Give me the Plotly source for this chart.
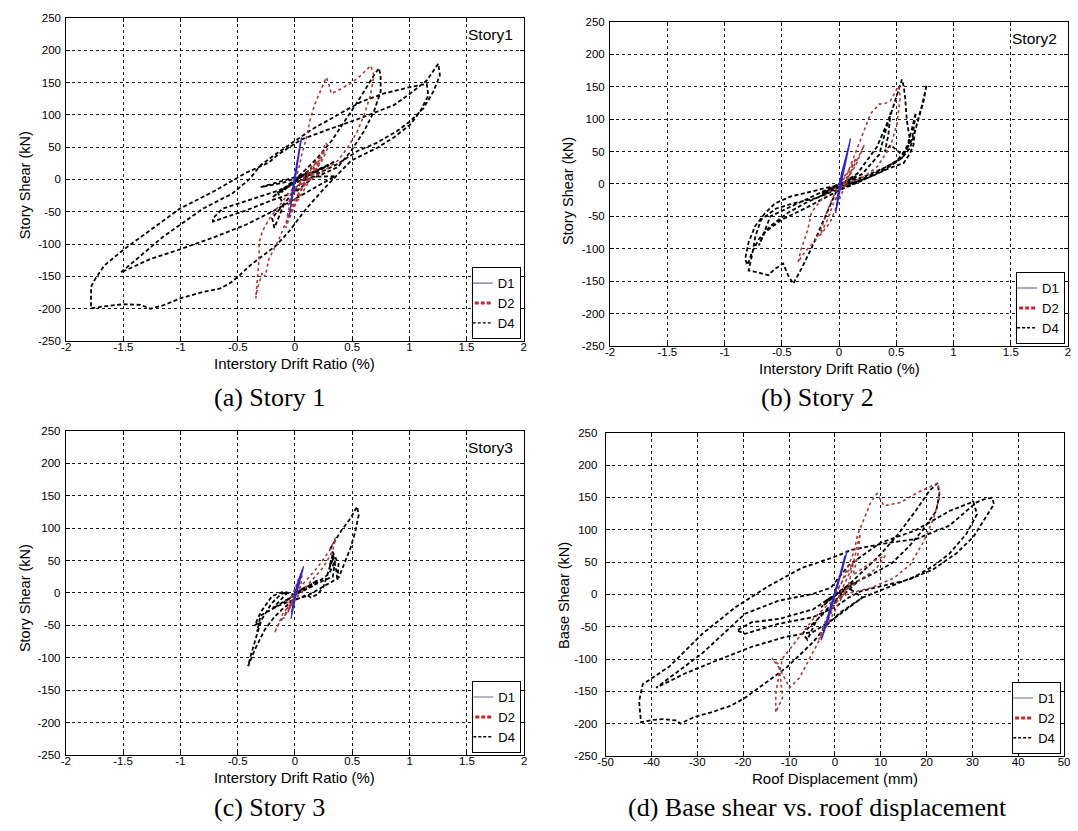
import plotly.graph_objects as go

# ---------------- tick labels ----------------
SHEAR_TICKS = [-250, -200, -150, -100, -50, 0, 50, 100, 150, 200, 250]
SHEAR_TICK_TEXT = ["-250", "-200", "-150", "-100", "-50", "0", "50", "100", "150", "200", "250"]
DRIFT_TICKS = [-2, -1.5, -1, -0.5, 0, 0.5, 1, 1.5, 2]
DRIFT_TICK_TEXT = ["-2", "-1.5", "-1", "-0.5", "0", "0.5", "1", "1.5", "2"]
DISP_TICKS = [-50, -40, -30, -20, -10, 0, 10, 20, 30, 40, 50]
DISP_TICK_TEXT = ["-50", "-40", "-30", "-20", "-10", "0", "10", "20", "30", "40", "50"]

SERIES = ["D1", "D2", "D4"]
STORY_TAGS = ["Story1", "Story2", "Story3", ""]
CAPTIONS = ["(a) Story 1", "(b) Story 2", "(c) Story 3", "(d) Base shear vs. roof displacement"]
X_TITLES = ["Interstory Drift Ratio (%)"] * 3 + ["Roof Displacement (mm)"]
Y_TITLES = ["Story Shear (kN)"] * 3 + ["Base Shear (kN)"]

# ---------------- Story 1 : (drift %, shear kN) ----------------
S1_D1 = [(0, 0), (0.02, 30), (-0.03, -25), (0.04, 50), (-0.04, -45), (0.058, 65), (0.03, 40),
         (-0.02, -20), (-0.05, -57), (0.0, 0), (0.045, 55), (0.02, 25), (-0.045, -52), (-0.01, -10),
         (0.035, 45), (-0.03, -35), (0.05, 60), (0.0, 5), (-0.04, -40), (0.02, 20), (0, 0)]
S1_D2 = [(0, 0), (0.03, 14), (0.06, 39), (0.1, 64), (0.13, 90), (0.17, 115), (0.23, 140), (0.274, 158),
         (0.30, 145), (0.317, 133), (0.37, 137), (0.432, 143), (0.5, 150), (0.576, 161), (0.662, 176),
         (0.69, 161), (0.66, 130), (0.605, 100), (0.547, 75), (0.46, 49), (0.374, 29), (0.26, 14),
         (0.144, 1), (0.05, -8), (0, -12), (-0.055, -20), (-0.112, -35), (-0.17, -48), (-0.228, -62),
         (-0.285, -80), (-0.314, -98), (-0.314, -123), (-0.328, -154), (-0.343, -184), (-0.33, -170),
         (-0.3, -150), (-0.285, -144), (-0.26, -150), (-0.228, -123), (-0.19, -110), (-0.141, -93),
         (-0.084, -68), (-0.026, -47), (0.02, -25), (0.08, -5), (0.15, 15), (0.22, 35), (0.27, 57),
         (0.29, 50), (0.24, 30), (0.16, 10), (0.08, -10), (0.0, -30), (-0.05, -50), (-0.08, -75),
         (-0.06, -65), (0.0, -40), (0.1, -10), (0.2, 20), (0.26, 45), (0.22, 35), (0.12, 15),
         (0.02, -10), (-0.04, -35), (-0.07, -60), (-0.02, -45), (0.06, -15), (0.15, 10), (0.22, 30),
         (0.18, 25), (0.1, 5), (0.0, -15), (-0.06, -40), (0, 0)]
S1_D4 = [(0, 0), (0.08, 8), (-0.06, -10), (0.15, 18), (-0.12, -20), (0.1, 10), (-0.2, -28), (0.0, 0),
         (0.086, 14), (0.2, 34), (0.317, 59), (0.432, 90), (0.547, 120), (0.69, 161), (0.734, 172),
         (0.749, 161), (0.749, 136), (0.69, 105), (0.605, 75), (0.49, 44), (0.374, 19), (0.2, 5),
         (0.0, -5), (-0.141, -17), (-0.429, -34), (-0.631, -45), (-0.717, -60), (-0.717, -65),
         (-0.6, -58), (-0.429, -48), (-0.2, -32), (0.0, -20), (0.2, 9), (0.374, 24), (0.547, 44),
         (0.72, 57), (0.893, 75), (1.008, 90), (1.123, 110), (1.21, 136), (1.267, 161), (1.253, 179),
         (1.152, 153), (1.008, 133), (0.864, 115), (0.576, 95), (0.288, 77), (0.058, 62), (-0.144, 39),
         (-0.23, 26), (-0.432, 10), (-0.717, -19), (-1.005, -45), (-1.264, -78), (-1.495, -108),
         (-1.667, -133), (-1.754, -156), (-1.783, -166), (-1.783, -184), (-1.783, -199.5),
         (-1.70, -197), (-1.50, -193), (-1.35, -194), (-1.264, -200), (-1.149, -194.5), (-1.005, -184),
         (-0.803, -174), (-0.659, -169), (-0.573, -161), (-0.487, -149), (-0.40, -134), (-0.285, -118),
         (-0.17, -103), (-0.05, -80), (0.1, -45), (0.25, -15), (0.374, 8), (0.49, 29), (0.72, 49),
         (0.864, 65), (1.008, 85), (1.094, 105), (1.166, 130), (1.152, 148), (1.008, 143),
         (0.778, 133), (0.576, 120), (0.374, 100), (0.144, 77), (-0.17, 39), (-0.3, 22), (-0.4, 0),
         (-0.55, -22), (-0.803, -45), (-1.149, -88), (-1.523, -144), (-1.264, -123), (-1.005, -108),
         (-0.717, -90), (-0.429, -70), (-0.17, -47), (0.0, -30), (0.2, -10), (0.35, 5), (0.003, 3.6),
         (-0.141, -4), (-0.3, -12), (-0.1, -5), (0.2, 15), (0.35, 28), (0.1, 5), (-0.2, -60),
         (-0.18, -75), (-0.1, -40), (-0.15, -20), (0.3, 22), (0.0, 0)]

# ---------------- Story 2 ----------------
S2_D1 = [(0, 0), (0.04, 25), (-0.01, -15), (0.07, 45), (0.0, -5), (0.1, 70), (0.06, 35), (-0.02, -30),
         (-0.03, -45), (0.03, 10), (0.08, 55), (0.02, 15), (-0.025, -38), (0.05, 30), (0.09, 60),
         (0.0, -10), (-0.02, -25), (0.03, 20), (0, 0)]
S2_D2 = [(0, 0), (0.016, 1), (0.073, 16), (0.13, 42), (0.19, 72), (0.275, 108), (0.35, 123), (0.40, 124),
         (0.448, 128), (0.52, 151), (0.534, 133), (0.505, 92), (0.448, 57), (0.33, 26), (0.218, 11),
         (0.07, 1), (0, -5), (-0.07, -9), (-0.157, -24), (-0.243, -45), (-0.272, -70), (-0.33, -100),
         (-0.358, -121), (-0.32, -110), (-0.25, -95), (-0.214, -90), (-0.157, -70), (-0.128, -55),
         (-0.1, -40), (-0.05, -20), (0.02, 5), (0.1, 25), (0.15, 40), (0.1, 20), (0.02, -5),
         (-0.05, -30), (-0.1, -55), (-0.17, -80), (-0.08, -60), (0, -25), (0.08, 10), (0.18, 45),
         (0.22, 60), (0.15, 30), (0.05, 0), (0, 0)]
S2_D4 = [(0, 0), (0.1, 8), (-0.08, -10), (0.15, 12), (-0.15, -15), (0.05, 3), (0.16, 16), (0.33, 57),
         (0.448, 105), (0.5, 135), (0.549, 161), (0.565, 150), (0.577, 133), (0.592, 98), (0.62, 67),
         (0.59, 52), (0.505, 36), (0.35, 20), (0.16, 4), (0, -3), (-0.07, -4), (-0.243, -12),
         (-0.416, -19), (-0.56, -30), (-0.646, -45), (-0.733, -65), (-0.79, -90), (-0.82, -116),
         (-0.80, -125), (-0.762, -106), (-0.70, -85), (-0.60, -65), (-0.45, -45), (-0.3, -30),
         (-0.15, -18), (0, -8), (0.2, 5), (0.4, 22), (0.55, 40), (0.62, 55), (0.66, 80), (0.70, 105),
         (0.735, 125), (0.765, 153), (0.75, 140), (0.72, 118), (0.69, 100), (0.66, 78), (0.65, 60),
         (0.62, 47), (0.563, 32), (0.45, 25), (0.275, 11), (0.16, 3.6), (0, -5), (-0.2, -22),
         (-0.4, -30), (-0.55, -38), (-0.68, -55), (-0.73, -80), (-0.76, -110), (-0.79, -133.5),
         (-0.718, -136), (-0.618, -141), (-0.56, -131), (-0.488, -123), (-0.445, -141), (-0.40, -154),
         (-0.33, -131), (-0.243, -100), (-0.157, -65), (-0.07, -30), (0, -2), (0.2, 15), (0.35, 45),
         (0.45, 110), (0.43, 75), (0.40, 50), (0.45, 60), (0.55, 45), (0.6, 60), (0.65, 95),
         (0.67, 110), (0.64, 70), (0.55, 40), (0.4, 25), (0.2, 10), (0, 0), (-0.3, -25), (-0.6, -50),
         (-0.7, -95), (-0.65, -75), (-0.5, -55), (-0.3, -38), (0, -10), (0.2, 5), (0, 0)]

# ---------------- Story 3 ----------------
S3_D1 = [(0, 0), (0.03, 20), (-0.02, -20), (0.06, 35), (-0.03, -30), (0.075, 41), (0.02, 10),
         (-0.035, -40), (0.05, 30), (-0.01, -15), (0.04, 25), (-0.03, -35), (0, 0)]
S3_D2 = [(0, 0), (0.1, 20), (0.2, 40), (0.3, 65), (0.354, 85), (0.33, 65), (0.25, 40), (0.1, 10),
         (0, -10), (-0.1, -30), (-0.179, -62), (-0.15, -50), (-0.05, -25), (0.05, 10), (0.066, 36),
         (0.02, 10), (-0.04, -20), (-0.1, -40), (-0.05, -15), (0.03, 20), (0.06, 30), (0.0, 0),
         (-0.06, -30), (0.04, 15), (0, 0)]
S3_D4 = [(0, 0), (0.1, 10), (-0.1, -15), (0.2, 20), (-0.2, -25), (-0.063, 1), (-0.121, -1.5),
         (-0.207, -16.8), (-0.294, -42), (-0.337, -67), (-0.38, -92.7), (-0.409, -113), (-0.351, -87.7),
         (-0.265, -57), (-0.179, -37), (-0.092, -22), (-0.006, -11.7), (0.1, -3), (0.14, -7), (0.2, -2),
         (0.25, 10), (0.311, 44), (0.34, 55), (0.3, 40), (0.33, 60), (0.36, 35), (0.37, 19), (0.38, 45),
         (0.311, 69), (0.4, 95), (0.484, 115), (0.542, 133), (0.556, 120), (0.527, 95), (0.484, 69),
         (0.426, 44), (0.383, 24), (0.3, 15), (0.2, 5), (0.1, -5), (0, -10), (-0.15, -20), (-0.3, -35),
         (-0.33, -60), (-0.31, -45), (-0.35, -50), (-0.3, -30), (-0.2, -5), (-0.1, 2), (0, -3),
         (0.15, 10), (0.3, 30), (0.35, 50), (0.33, 25), (0.2, 15), (0, 0)]

# ---------------- Roof : (displacement mm, base shear kN) ----------------
S4_D1 = [(0, 0), (1, 25), (-0.5, -10), (2, 50), (0.5, 10), (2.7, 68), (1.5, 35), (-1, -20), (-2, -45),
         (-3, -71), (-1.5, -40), (0.5, 15), (2.2, 60), (1, 30), (-0.5, -15), (-2.5, -60), (0, 5),
         (1.8, 45), (0.8, 20), (-1.2, -30), (0, 0)]
S4_D2 = [(0, 0), (1.3, 15), (2.7, 40.6), (4.2, 66), (4.9, 91), (6.3, 116.7), (7.8, 142), (9.2, 156),
         (10.7, 137), (14.3, 142), (17.9, 157), (22.5, 172.4), (22.9, 152), (21.5, 116.7), (19.3, 81),
         (16.4, 45.7), (12.8, 25), (7.8, 10), (3.5, 2.6), (0, -8), (-1.8, -17.8), (-4.7, -38),
         (-6.9, -58), (-9.2, -78.6), (-11.4, -99), (-12.2, -124), (-12.9, -154.6), (-12.9, -182.6),
         (-11.4, -160), (-11.8, -134), (-12.2, -109), (-13.7, -99), (-12, -115), (-9.9, -144.5),
         (-7.7, -129), (-5.5, -99), (-3.2, -68), (-1, -38), (1, -10), (3, 15), (5.5, 94), (5, 60),
         (4, 30), (6, 40), (8, 50), (11, 60), (9, 40), (6, 25), (3, 10), (0, -15), (-2, -40),
         (-3.5, -70), (-2.5, -55), (-1, -30), (1, 0), (3, 30), (4, 50), (2, 25), (0, 0)]
S4_D4 = [(0, 0), (2, 8), (-1.5, -10), (3, 15), (-3, -20), (1, 5), (2.7, 12.7), (6, 35), (10.1, 63),
         (13.9, 94), (17.6, 129), (20.6, 160), (22.4, 172), (22.8, 155), (22.1, 129), (19.1, 99),
         (16.1, 73.6), (12.4, 48), (8.6, 33), (2.7, 12.7), (0, 0), (-4.7, -23), (-12.2, -38),
         (-18.1, -43), (-21.4, -55.8), (-19.6, -61), (-12.4, -45.7), (-4.7, -35), (0, -20), (3, -5),
         (5.7, 5), (10.1, 12.7), (16.1, 22.9), (21.3, 38), (26.5, 63.4), (30.2, 88.8), (32.4, 114),
         (34.7, 139.5), (34.3, 149.6), (32.5, 147), (30.8, 142), (25, 106.5), (17.9, 86), (10.7, 78.6),
         (3.5, 68.5), (-0.1, 58), (-7.3, 40.6), (-14.5, 12.7), (-21.7, -20), (-28.9, -60.9),
         (-36.1, -111.6), (-41.9, -139), (-42.7, -165), (-42.3, -197.7), (-39.7, -194), (-37.5, -193),
         (-34.5, -195), (-33.7, -200), (-30.8, -190), (-27, -182.5), (-22.6, -172), (-19.6, -160),
         (-16.6, -144.6), (-13.7, -129), (-10.7, -114), (-7.7, -94), (-4.7, -73.5), (-1.8, -48),
         (1.2, -28), (6, -5), (12, 12), (17.6, 28), (21.3, 43), (25, 63), (28.7, 93.8), (31, 124),
         (30.2, 143.5), (25, 129), (17.6, 99), (10, 80), (3, 45), (-0.9, 10), (-5.2, 0), (-12.4, -10),
         (-19.6, -30), (-28.9, -91), (-39, -144.5), (-32.5, -121.7), (-25.3, -101), (-18.1, -81),
         (-10.9, -66), (-4.7, -58), (-0.3, -38), (3, -20), (6, -5), (3, 10), (-2, -10), (5, 20),
         (-7, -60), (-6, -70), (-4, -40), (2, 5), (0, 0)]

PANEL_DATA = [
    {"D1": S1_D1, "D2": S1_D2, "D4": S1_D4},
    {"D1": S2_D1, "D2": S2_D2, "D4": S2_D4},
    {"D1": S3_D1, "D2": S3_D2, "D4": S3_D4},
    {"D1": S4_D1, "D2": S4_D2, "D4": S4_D4},
]

# ---------------- layout geometry (page pixels) ----------------
W, H = 1078, 831


def px(x):
    return x / W


def py(y):
    return 1 - y / H


PANEL_BOX = [  # left, right, top, bottom
    (59, 522.5, 12, 340),
    (610, 1074, 16, 345),
    (58.5, 523, 431, 760),
    (605.5, 1070, 433, 761),
]
CAPTION_POS = [(265, 397), (820, 397), (265, 813), (820, 813)]
STORY_TAG_Y = [29, 33, 448, 0]
YTITLE_POS = [(18, 182), (568, 188), (18, 601), (564, 598)]
Y_LABEL_STANDOFF = [2, 2, 2, 5]

SANS = "Arial, Liberation Sans, sans-serif"
SERIF = "Times New Roman, Liberation Serif, serif"

DATA_STYLE = {
    "D4": dict(color="black", width=1.8, dash="4px,2.5px"),
    "D2": dict(color="rgb(170,58,58)", width=1.6, dash="dot"),
    "D1": dict(color="rgb(45,40,205)", width=1.3),
}
LEGEND_STYLE = {
    "D1": dict(color="rgb(110,110,160)", width=1.2),
    "D2": dict(color="rgb(200,40,40)", width=3, dash="4px,2px"),
    "D4": dict(color="black", width=1.4, dash="3px,2px"),
}

fig = go.Figure()
layout = dict(width=W, height=H, margin=dict(l=0, r=0, t=0, b=0),
              paper_bgcolor="white", plot_bgcolor="white", showlegend=True,
              annotations=[])

for i in range(4):
    sx = "" if i == 0 else str(i + 1)
    xa, ya = "x" + sx, "y" + sx
    lg = "legend" + sx
    l, r, t, b = PANEL_BOX[i]
    for name in ["D4", "D2", "D1"]:
        pts = PANEL_DATA[i][name]
        fig.add_trace(go.Scatter(x=[p[0] for p in pts], y=[p[1] for p in pts], mode="lines",
                                 line=DATA_STYLE[name], xaxis=xa, yaxis=ya, showlegend=False,
                                 hoverinfo="skip"))
    for name in SERIES:
        fig.add_trace(go.Scatter(x=[None], y=[None], mode="lines", name=name, line=LEGEND_STYLE[name],
                                 xaxis=xa, yaxis=ya, legend=lg, showlegend=True))
    is_disp = (i == 3)
    common = dict(showline=True, linecolor="black", linewidth=1, mirror="ticks", ticks="inside",
                  ticklen=4, tickcolor="black", showgrid=True, gridcolor="#1a1a1a", griddash="3px,3px",
                  gridwidth=1, zeroline=False, tickfont=dict(family=SANS, size=11.5, color="black"))
    layout["xaxis" + sx] = dict(
        common, domain=[px(l), px(r)], anchor=ya,
        range=[-50, 50] if is_disp else [-2, 2],
        tickvals=DISP_TICKS if is_disp else DRIFT_TICKS,
        ticktext=DISP_TICK_TEXT if is_disp else DRIFT_TICK_TEXT,
        ticklabelstandoff=-5,
    )
    layout["yaxis" + sx] = dict(
        common, domain=[py(b), py(t)], anchor=xa,
        range=[-250, 250], tickvals=SHEAR_TICKS, ticktext=SHEAR_TICK_TEXT,
        ticklabelstandoff=Y_LABEL_STANDOFF[i],
    )
    layout[lg] = dict(x=px(r - 3), y=py(b - 2), xanchor="right", yanchor="bottom",
                      bgcolor="white", bordercolor="black", borderwidth=1,
                      font=dict(family=SANS, size=13, color="black"),
                      itemwidth=30, tracegroupgap=0, indentation=-15)
    layout["annotations"].append(dict(
        text=X_TITLES[i], xref="paper", yref="paper", x=px((l + r) / 2), y=py(b + 23),
        xanchor="center", yanchor="middle", showarrow=False,
        font=dict(family=SANS, size=15, color="black")))
    tx, ty = YTITLE_POS[i]
    layout["annotations"].append(dict(
        text=Y_TITLES[i], xref="paper", yref="paper", x=px(tx), y=py(ty), textangle=-90,
        xanchor="center", yanchor="middle", showarrow=False,
        font=dict(family=SANS, size=14.5, color="black")))
    if STORY_TAGS[i]:
        layout["annotations"].append(dict(
            text=STORY_TAGS[i], xref="paper", yref="paper", x=px(r - 9), y=py(STORY_TAG_Y[i]),
            xanchor="right", yanchor="middle", showarrow=False,
            font=dict(family=SANS, size=15.5, color="black")))
    cx, cy = CAPTION_POS[i]
    layout["annotations"].append(dict(
        text=CAPTIONS[i], xref="paper", yref="paper", x=px(cx), y=py(cy),
        xanchor="center", yanchor="middle", showarrow=False,
        font=dict(family=SERIF, size=26, color="black")))

fig.update_layout(**layout)
# remove the browser's default 8px page margin so the figure sits at the page origin
fig.write_html("out.html", config={"displayModeBar": False},
               post_script="document.body.style.margin='0';")
